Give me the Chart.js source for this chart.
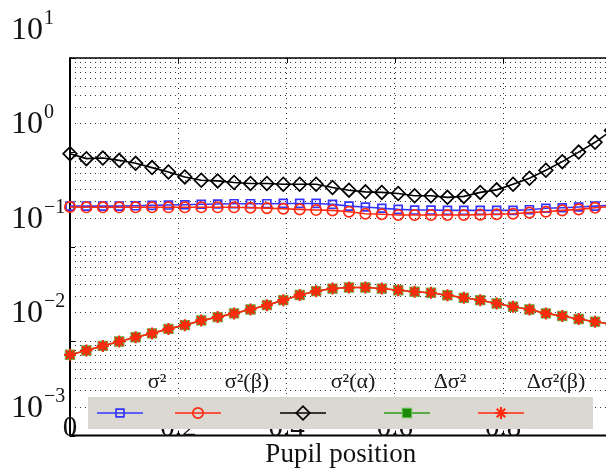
<!DOCTYPE html>
<html>
<head>
<meta charset="utf-8">
<script src="https://cdn.jsdelivr.net/npm/chart.js@4/dist/chart.umd.min.js"></script>
<style>
html,body{margin:0;padding:0;overflow:hidden;background:#fff;}
canvas{display:block;}
</style>
</head>
<body>
<canvas id="c" width="620" height="471"></canvas>
<script>
// ---------------- data ----------------
const pupilPositions = [0, 0.0303, 0.0606, 0.0909, 0.1212, 0.1515, 0.1818, 0.2121, 0.2424, 0.2727,
  0.3030, 0.3333, 0.3636, 0.3939, 0.4242, 0.4545, 0.4848, 0.5152, 0.5455, 0.5758,
  0.6061, 0.6364, 0.6667, 0.6970, 0.7273, 0.7576, 0.7879, 0.8182, 0.8485, 0.8788,
  0.9091, 0.9394, 0.9697, 1.0];

const sigma2 = [0.270, 0.270, 0.270, 0.270, 0.272, 0.275, 0.277, 0.279, 0.282, 0.284,
  0.286, 0.286, 0.286, 0.288, 0.288, 0.288, 0.282, 0.270, 0.264, 0.256,
  0.249, 0.245, 0.245, 0.243, 0.243, 0.243, 0.243, 0.243, 0.247, 0.256,
  0.259, 0.264, 0.270, 0.276];

const sigma2Beta = [0.264, 0.262, 0.262, 0.262, 0.262, 0.262, 0.262, 0.262, 0.262, 0.262,
  0.262, 0.259, 0.257, 0.253, 0.249, 0.245, 0.243, 0.235, 0.224, 0.221,
  0.217, 0.217, 0.217, 0.217, 0.217, 0.219, 0.221, 0.224, 0.230, 0.235,
  0.243, 0.249, 0.259, 0.267];

const sigma2Alpha = [0.969, 0.859, 0.871, 0.824, 0.766, 0.690, 0.621, 0.550, 0.507, 0.499,
  0.480, 0.469, 0.469, 0.460, 0.460, 0.460, 0.425, 0.398, 0.382, 0.377,
  0.367, 0.347, 0.347, 0.334, 0.342, 0.377, 0.401, 0.460, 0.532, 0.647,
  0.798, 1.007, 1.28, 1.71];

const deltaSigma2 = [0.00718, 0.00798, 0.00892, 0.00993, 0.0110, 0.0121, 0.0135, 0.0148, 0.0166, 0.0180,
  0.0197, 0.0217, 0.0241, 0.0272, 0.0309, 0.0339, 0.0361, 0.0370, 0.0370, 0.0361,
  0.0347, 0.0334, 0.0326, 0.0307, 0.0288, 0.0272, 0.0251, 0.0232, 0.0217, 0.0197,
  0.0185, 0.0172, 0.0161, 0.0151];

const deltaSigma2Beta = [0.00718, 0.00798, 0.00892, 0.00993, 0.0110, 0.0121, 0.0135, 0.0148, 0.0166, 0.0180,
  0.0197, 0.0217, 0.0241, 0.0272, 0.0309, 0.0339, 0.0361, 0.0370, 0.0370, 0.0361,
  0.0347, 0.0334, 0.0326, 0.0307, 0.0288, 0.0272, 0.0251, 0.0232, 0.0217, 0.0197,
  0.0185, 0.0172, 0.0161, 0.0151];

const seriesLabels = ['σ²', 'σ²(β)', 'σ²(α)', 'Δσ²', 'Δσ²(β)'];
const xTickValues = [0, 0.2, 0.4, 0.6, 0.8, 1];
const xTickLabels = ['0', '0.2', '0.4', '0.6', '0.8', '1'];
const yTickValues = [10, 1, 0.1, 0.01, 0.001];
const yTickExponents = ['1', '0', '−1', '−2', '−3'];
const xAxisTitle = 'Pupil position';

// ---------------- chart ----------------
const SERIF = '"Liberation Serif", "DejaVu Serif", "Times New Roman", serif';
const toPoints = vals => pupilPositions.map((x, i) => ({x: x, y: vals[i]}));

const datasets = [
  {label: seriesLabels[0], data: toPoints(sigma2), borderColor: '#3434ff', borderWidth: 1.6,
   pointStyle: 'rect', pointRadius: 5.6, pointBorderColor: '#3434ff', pointBackgroundColor: 'rgba(0,0,0,0)',
   pointBorderWidth: 1.7, order: 5},
  {label: seriesLabels[1], data: toPoints(sigma2Beta), borderColor: '#ff2a10', borderWidth: 1.6,
   pointStyle: 'circle', pointRadius: 5.2, pointBorderColor: '#ff2a10', pointBackgroundColor: 'rgba(0,0,0,0)',
   pointBorderWidth: 1.7, order: 4},
  {label: seriesLabels[2], data: toPoints(sigma2Alpha), borderColor: '#000000', borderWidth: 1.6,
   pointStyle: 'rectRot', pointRadius: 6.8, pointBorderColor: '#000000', pointBackgroundColor: 'rgba(0,0,0,0)',
   pointBorderWidth: 1.7, order: 3},
  {label: seriesLabels[3], data: toPoints(deltaSigma2), borderColor: '#2e9a1c', borderWidth: 1.6,
   pointStyle: 'rect', pointRadius: 6.5, pointBorderColor: '#62bd4f', pointBackgroundColor: '#1b8a08',
   pointBorderWidth: 1.2, order: 2},
  {label: seriesLabels[4], data: toPoints(deltaSigma2Beta), borderColor: '#ff2a10', borderWidth: 1.6,
   pointStyle: 'star', pointRadius: 6, pointBorderColor: '#ff2a10', pointBackgroundColor: '#ff2a10',
   pointBorderWidth: 2.2, order: 1}
];
datasets.forEach(d => { d.tension = 0; d.clip = false; d.fill = false; d.pointHoverRadius = d.pointRadius; });

const legendLayout = {box: [88, 397, 505, 32], lineX: [120, 198, 303, 407, 501], half: 23, lineY: 413,
  labelX: [157, 247, 353, 450, 556], labelY: 382};

const decorPlugin = {
  id: 'decor',
  beforeDatasetsDraw(chart) {
    const {ctx, chartArea: a, scales: {x, y}} = chart;
    ctx.save();
    ctx.strokeStyle = '#000';
    ctx.setLineDash([]);
    ctx.lineWidth = 1.5;
    ctx.beginPath();
    ctx.moveTo(a.left, a.top); ctx.lineTo(a.right, a.top); ctx.lineTo(a.right, a.bottom);
    ctx.stroke();
    ctx.lineWidth = 2;
    ctx.beginPath();
    ctx.moveTo(a.left, a.top - 0.75); ctx.lineTo(a.left, a.bottom); ctx.lineTo(a.right, a.bottom);
    ctx.stroke();
    ctx.lineWidth = 1;
    xTickValues.forEach(v => {
      const px = Math.round(x.getPixelForValue(v)) + 0.5;
      ctx.beginPath();
      ctx.moveTo(px, a.top); ctx.lineTo(px, a.top + 5);
      ctx.moveTo(px, a.bottom); ctx.lineTo(px, a.bottom - 5);
      ctx.stroke();
    });
    yTickValues.forEach(v => {
      const py = Math.round(y.getPixelForValue(v)) + 0.5;
      ctx.beginPath();
      ctx.moveTo(a.left, py); ctx.lineTo(a.left + 5, py);
      ctx.moveTo(a.right, py); ctx.lineTo(a.right - 5, py);
      ctx.stroke();
    });
    ctx.restore();
  },
  afterDatasetsDraw(chart) {
    const {ctx, chartArea: a, scales: {x, y}} = chart;
    ctx.save();
    ctx.fillStyle = '#111';
    // y tick labels (10 with exponent), drawn raised as in the reference
    yTickValues.forEach((v, i) => {
      const py = y.getPixelForValue(v);
      const base = py - 19;
      ctx.font = '32px ' + SERIF;
      ctx.textAlign = 'left';
      ctx.textBaseline = 'alphabetic';
      ctx.fillText('10', 11, base);
      const w = ctx.measureText('10').width;
      ctx.font = '20px ' + SERIF;
      ctx.fillText(yTickExponents[i], 11 + w + 1, base - 15);
    });
    // x tick labels
    ctx.font = '29px ' + SERIF;
    ctx.textAlign = 'center';
    ctx.textBaseline = 'alphabetic';
    xTickValues.forEach((v, i) => {
      ctx.fillText(xTickLabels[i], x.getPixelForValue(v), a.bottom);
    });
    // legend
    const L = legendLayout;
    ctx.fillStyle = '#dbd8d2';
    ctx.fillRect(L.box[0], L.box[1], L.box[2], L.box[3]);
    chart.data.datasets.forEach((ds, i) => {
      const cx = L.lineX[i];
      ctx.setLineDash([]);
      ctx.strokeStyle = ds.borderColor;
      ctx.lineWidth = ds.borderWidth;
      ctx.beginPath();
      ctx.moveTo(cx - L.half, L.lineY); ctx.lineTo(cx + L.half, L.lineY);
      ctx.stroke();
      ctx.fillStyle = ds.pointBackgroundColor;
      ctx.strokeStyle = ds.pointBorderColor;
      ctx.lineWidth = ds.pointBorderWidth;
      Chart.helpers.drawPoint(ctx, {pointStyle: ds.pointStyle, radius: ds.pointRadius, rotation: 0,
        borderWidth: ds.pointBorderWidth}, cx, L.lineY);
      ctx.fillStyle = '#1a1a1a';
      ctx.font = '22px ' + SERIF;
      ctx.textAlign = 'center';
      ctx.textBaseline = 'middle';
      ctx.fillText(ds.label, L.labelX[i], L.labelY);
    });
    ctx.restore();
  }
};

new Chart(document.getElementById('c'), {
  type: 'line',
  data: {datasets: datasets},
  options: {
    responsive: false,
    animation: false,
    devicePixelRatio: 1,
    layout: {padding: {left: 70, top: 58, right: 8, bottom: 0}},
    plugins: {legend: {display: false}, tooltip: {enabled: false}},
    scales: {
      x: {
        type: 'linear', min: 0, max: 1,
        ticks: {display: false, stepSize: 0.2},
        grid: {color: '#333', lineWidth: 1, drawTicks: false},
        border: {display: false, dash: [1, 4]},
        title: {display: true, text: xAxisTitle, color: '#111',
          font: {family: SERIF, size: 27}, padding: {top: 3, bottom: 0}}
      },
      y: {
        type: 'logarithmic', min: 0.001, max: 10,
        ticks: {display: false, autoSkip: false},
        grid: {color: '#333', lineWidth: 1, drawTicks: false},
        border: {display: false, dash: [1, 4]},
        afterBuildTicks: scale => {
          scale.ticks = scale.ticks.filter(t => {
            const m = t.value / Math.pow(10, Math.floor(Math.log10(t.value) + 1e-9));
            return Math.abs(m - 1.5) > 1e-6;
          });
        }
      }
    }
  },
  plugins: [decorPlugin]
});
</script>
</body>
</html>
